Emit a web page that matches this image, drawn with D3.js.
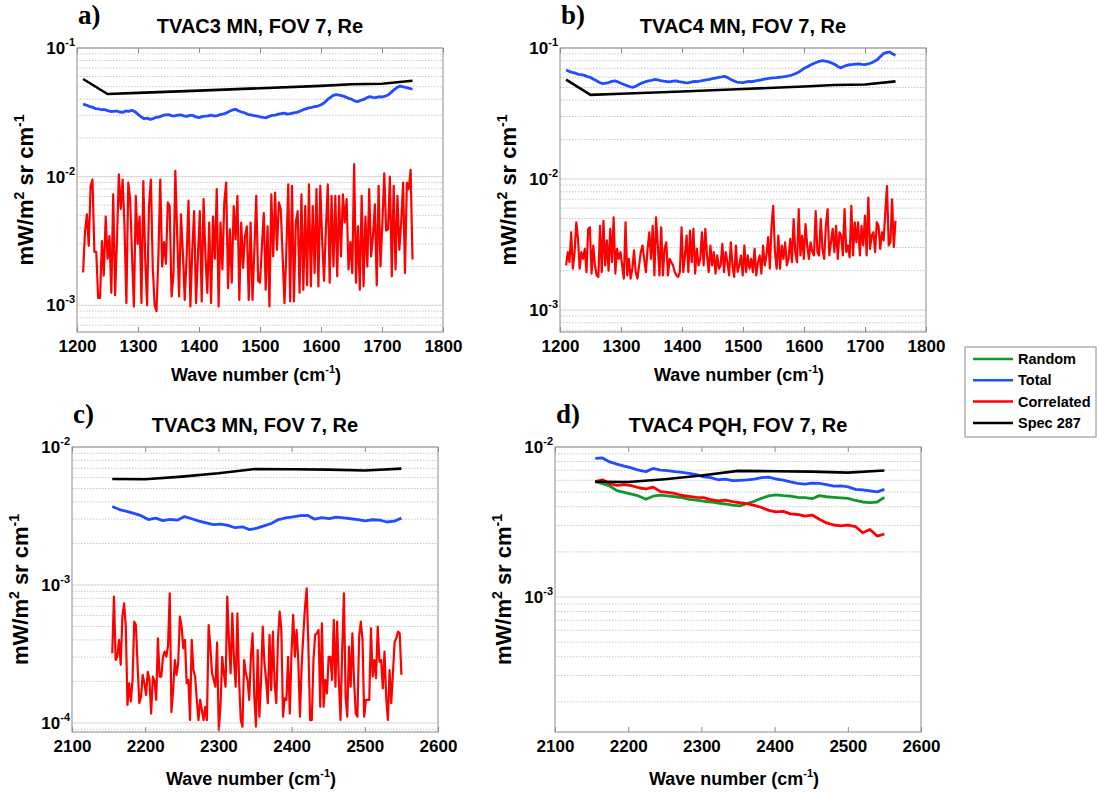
<!DOCTYPE html>
<html lang="en">
<head>
<meta charset="UTF-8">
<title>TVAC noise, FOV 7</title>
<script src="https://cdn.jsdelivr.net/npm/d3@7"></script>
<style>
  body { margin: 0; background: #fff; }
  text { font-family: "Liberation Sans", Arial, sans-serif; font-weight: bold; fill: #000; }
  text.tag { font-family: "Liberation Serif", "Times New Roman", serif; }
</style>
</head>
<body>
<svg width="1097" height="793"></svg>
<script>
// band limits (cm-1), the spectra are on an even grid inside them
var mwRange = [1210, 1750];
var swRange = [2155, 2550];

// Spec 287 (black)
var specMwX = [1210, 1250, 1300, 1400, 1500, 1600, 1650, 1700, 1750];
var specMw  = [0.0574, 0.0439, 0.0448, 0.0466, 0.0487, 0.0508, 0.0522, 0.0527, 0.0556];
var specSwX = [2155, 2200, 2250, 2300, 2350, 2400, 2450, 2500, 2550];
var specSw  = [5.86e-3, 5.84e-3, 6.1e-3, 6.45e-3, 6.93e-3, 6.9e-3, 6.85e-3, 6.75e-3, 6.97e-3];

// a) total (blue)
var totalA = [0.0366, 0.0360, 0.0352, 0.0347, 0.0338, 0.0336, 0.0331, 0.0333, 0.0326, 0.0321,
  0.0322, 0.0324, 0.0318, 0.0316, 0.0324, 0.0322, 0.0328, 0.0320, 0.0305, 0.0292,
  0.0282, 0.0285, 0.0279, 0.0283, 0.0289, 0.0291, 0.0298, 0.0302, 0.0303, 0.0298,
  0.0296, 0.0301, 0.0302, 0.0297, 0.0294, 0.0299, 0.0299, 0.0291, 0.0288, 0.0293,
  0.0295, 0.0297, 0.0301, 0.0296, 0.0298, 0.0304, 0.0307, 0.0313, 0.0322, 0.0330,
  0.0334, 0.0324, 0.0318, 0.0313, 0.0305, 0.0302, 0.0298, 0.0296, 0.0292, 0.0289,
  0.0287, 0.0294, 0.0299, 0.0301, 0.0306, 0.0309, 0.0312, 0.0306, 0.0309, 0.0313,
  0.0316, 0.0322, 0.0330, 0.0336, 0.0342, 0.0346, 0.0351, 0.0354, 0.0362, 0.0374,
  0.0395, 0.0412, 0.0428, 0.0434, 0.0431, 0.0425, 0.0417, 0.0406, 0.0400, 0.0388,
  0.0382, 0.0392, 0.0398, 0.0410, 0.0419, 0.0414, 0.0412, 0.0418, 0.0416, 0.0422,
  0.0431, 0.0452, 0.0475, 0.0494, 0.0506, 0.0498, 0.0492, 0.0485, 0.0478];
// a) correlated (red), x1e-3
var corrA = [1.8, 3.7, 5.1, 2.9, 8.5, 9.5, 2.6, 2.6, 1.14, 1.14,
  3.15, 1.7, 4.9, 2.3, 3.45, 1.25, 7.3, 1.2, 3.25, 10.4,
  5.6, 9.5, 4.1, 1.04, 9.0, 6.7, 2.4, 0.98, 7.1, 3.0,
  4.9, 1.04, 9.25, 2.3, 1.0, 5.9, 9.5, 2.0, 1.0, 0.9,
  2.4, 9.5, 2.0, 3.1, 2.1, 6.3, 5.9, 1.17, 1.73, 11.1,
  3.45, 1.17, 5.1, 2.56, 1.1, 2.4, 6.5, 0.98, 2.7, 5.4,
  1.04, 2.4, 5.4, 1.07, 6.7, 2.4, 1.25, 4.4, 1.04, 4.9,
  2.3, 8.0, 0.98, 4.4, 1.9, 6.3, 9.0, 1.36, 3.9, 1.5,
  5.9, 3.25, 7.1, 1.1, 4.4, 1.95, 3.45, 4.1, 1.1,
  4.4, 1.1, 2.7, 7.1, 1.55, 1.5, 2.9, 5.2, 1.32, 4.1,
  0.98, 7.3, 2.4, 7.5, 2.7, 6.3, 5.6, 2.4, 1.04, 2.7,
  8.7, 1.07, 8.5, 1.07, 4.4, 5.4, 1.25, 7.3, 1.32, 5.9,
  1.43, 8.7, 1.4, 5.9, 1.78, 8.0, 1.4, 8.5, 3.25, 1.55,
  3.9, 8.7, 1.5, 7.1, 2.0, 7.1, 1.68, 7.1, 2.4, 7.3,
  4.4, 6.7, 1.9, 3.1, 1.78, 12.5, 1.5, 4.1, 1.32, 7.1,
  1.4, 4.9, 2.0, 8.0, 2.4, 3.45, 6.1, 1.43, 8.5, 2.0,
  4.4, 10.6, 3.8, 3.9, 10.0, 1.68, 8.5, 1.9, 7.1, 2.7,
  4.4, 9.0, 1.78, 9.0, 8.0, 11.3, 2.27];

// b) total (blue)
var totalB = [0.0679, 0.0664, 0.0652, 0.0643, 0.0630, 0.0626, 0.0618, 0.0605, 0.0596, 0.0578,
  0.0562, 0.0545, 0.0534, 0.0539, 0.0545, 0.0556, 0.0562, 0.0551, 0.0538, 0.0527,
  0.0515, 0.0506, 0.0501, 0.0513, 0.0528, 0.0542, 0.0553, 0.0561, 0.0566, 0.0575,
  0.0571, 0.0564, 0.0559, 0.0555, 0.0552, 0.0558, 0.0561, 0.0553, 0.0549, 0.0544,
  0.0542, 0.0550, 0.0556, 0.0553, 0.0560, 0.0567, 0.0572, 0.0576, 0.0583, 0.0590,
  0.0596, 0.0601, 0.0607, 0.0594, 0.0575, 0.0561, 0.0550, 0.0546, 0.0545, 0.0552,
  0.0556, 0.0554, 0.0560, 0.0566, 0.0571, 0.0579, 0.0584, 0.0588, 0.0592, 0.0594,
  0.0598, 0.0602, 0.0607, 0.0614, 0.0622, 0.0634, 0.0650, 0.0672, 0.0700, 0.0716,
  0.0738, 0.0758, 0.0775, 0.0792, 0.0802, 0.0794, 0.0783, 0.0770, 0.0752, 0.0726,
  0.0705, 0.0722, 0.0738, 0.0745, 0.0749, 0.0754, 0.0756, 0.0751, 0.0748, 0.0755,
  0.0768, 0.0789, 0.0812, 0.0858, 0.0905, 0.0921, 0.0932, 0.0905, 0.0878];
// b) correlated (red), x1e-3
var corrB = [2.19, 2.77, 2.32, 3.92, 2.07, 2.77, 4.67, 3.49, 2.07, 2.77,
  2.46, 2.93, 1.95, 4.16, 4.28, 1.9, 3.11, 2.19, 1.84, 1.79,
  4.4, 1.95, 4.8, 2.19, 3.4, 2.0, 4.16, 2.32, 5.1, 1.9,
  2.93, 2.46, 2.77, 2.19, 1.74, 4.67, 1.84, 2.46, 1.74, 2.07,
  2.85, 1.95, 1.74, 2.19, 2.77, 3.11, 2.46, 1.95, 2.93, 3.92,
  2.46, 4.4, 1.84, 5.1, 3.11, 1.84, 4.28, 1.84, 2.93, 3.29,
  1.84, 2.46, 2.32, 2.19, 1.95, 1.84, 1.79, 1.95, 4.28, 1.95,
  2.61, 3.7, 1.95, 4.04, 2.32, 4.16, 1.9, 2.93, 2.19, 2.46,
  3.92, 2.19, 4.16, 2.61, 1.95, 3.11, 2.19, 2.77, 1.9, 2.61,
  2.07, 2.19, 3.2, 1.95, 2.77, 2.32, 1.84, 3.29, 2.19, 1.79,
  3.11, 1.95, 2.19, 2.61, 1.84, 3.11, 1.95, 2.61, 2.07, 2.46,
  1.95, 2.93, 1.84, 2.32, 2.61, 1.9, 3.11, 2.19, 2.61, 3.6,
  2.07, 4.4, 6.24, 2.77, 2.07, 3.7, 2.07, 3.11, 2.46, 3.29,
  2.19, 2.46, 3.49, 2.32, 4.95, 2.77, 2.32, 5.89, 2.61, 3.7,
  2.46, 4.53, 3.11, 2.46, 3.29, 2.77, 2.61, 5.7, 2.77, 2.61,
  4.95, 2.93, 2.46, 4.4, 5.89, 2.61, 3.29, 4.16, 2.77, 4.4,
  2.46, 3.92, 3.7, 2.61, 5.89, 2.77, 3.11, 2.53, 6.24, 2.61,
  4.67, 3.29, 4.67, 2.61, 4.4, 3.11, 5.25, 2.61, 7.22, 2.93,
  3.7, 3.92, 2.77, 4.67, 4.4, 2.93, 3.92, 3.4, 5.56, 8.85,
  3.11, 3.29, 7.0, 3.02, 4.8];

// c) total (blue), x1e-3
var totalC = [3.70, 3.52, 3.41, 3.30, 3.18, 2.98, 3.05, 2.93, 2.99, 2.95,
  3.13, 3.02, 2.90, 2.82, 2.74, 2.76, 2.70, 2.60, 2.64, 2.52,
  2.58, 2.68, 2.79, 2.98, 3.06, 3.12, 3.18, 3.20, 3.00, 3.08,
  3.03, 3.10, 3.06, 3.02, 2.98, 2.92, 2.97, 2.95, 2.86, 2.90, 3.05];
// c) correlated (red), x1e-4
var corrC = [3.2, 8.23, 2.86, 3.02, 4.0, 2.64, 5.9, 7.36, 4.99, 1.35,
  1.94, 1.43, 2.05, 5.42, 5.13, 2.56, 1.39, 1.55, 2.23, 1.94,
  1.6, 2.35, 2.05, 1.17, 2.17, 2.0, 1.47, 4.11, 2.17, 2.17,
  3.02, 3.29, 3.02, 3.67, 8.7, 1.2, 1.73, 2.86, 2.23, 2.71,
  5.9, 4.99, 3.47, 4.0, 1.94, 2.05, 1.05, 4.0, 2.42, 2.17,
  1.47, 1.05, 1.47, 1.24, 1.05, 1.31, 1.05, 5.13, 3.57, 2.29,
  2.05, 1.83, 3.83, 0.89, 1.31, 3.02, 2.29, 1.83, 8.23, 4.0,
  2.29, 6.24, 2.86, 1.83, 6.24, 2.05, 1.05, 0.94, 2.86, 2.29,
  2.05, 1.47, 3.02, 4.47, 1.55, 0.94, 3.38, 1.11, 2.05, 4.99,
  2.71, 2.05, 1.39, 4.35, 1.73, 4.59, 1.94, 1.39, 4.0, 6.41,
  4.72, 1.11, 1.51, 1.47, 3.02, 1.17, 3.2, 6.07, 3.02, 4.72,
  2.86, 1.11, 2.56, 4.35, 6.95, 9.46, 3.57, 1.05, 1.05, 2.86,
  4.35, 4.47, 4.72, 1.31, 5.27, 1.31, 2.05, 1.64, 3.02, 3.02,
  2.05, 5.58, 1.83, 5.42, 2.05, 1.05, 3.38, 8.7, 1.55, 1.11,
  3.57, 1.83, 4.47, 2.05, 1.17, 1.11, 4.22, 5.42, 4.0, 1.11,
  1.47, 1.47, 1.47, 4.85, 2.17, 2.86, 2.11, 4.99, 2.78, 2.86,
  1.78, 3.29, 1.55, 1.05, 2.42, 1.39, 2.29, 3.88, 4.11, 4.59,
  4.47, 2.23];

// d) x1e-3
var randomD = [5.87, 5.70, 5.50, 5.12, 4.98, 4.85, 4.72, 4.48, 4.70, 4.78,
  4.72, 4.66, 4.60, 4.48, 4.42, 4.35, 4.30, 4.22, 4.17, 4.10,
  4.05, 4.20, 4.35, 4.55, 4.72, 4.80, 4.74, 4.70, 4.62, 4.60,
  4.52, 4.74, 4.66, 4.62, 4.58, 4.55, 4.40, 4.30, 4.26, 4.30, 4.62];
var totalD = [8.40, 8.45, 7.95, 7.70, 7.45, 7.25, 7.00, 6.85, 7.20, 7.02,
  6.95, 6.85, 6.78, 6.67, 6.55, 6.32, 6.25, 6.05, 6.10, 5.96,
  6.00, 6.03, 6.10, 6.25, 6.30, 6.12, 6.02, 5.85, 5.72, 5.66,
  5.75, 5.72, 5.62, 5.48, 5.50, 5.42, 5.22, 5.18, 5.10, 5.02, 5.22];
var corrD = [5.87, 6.05, 5.70, 5.55, 5.62, 5.52, 5.35, 5.25, 5.40, 5.05,
  4.98, 4.90, 4.75, 4.68, 4.62, 4.60, 4.45, 4.38, 4.42, 4.32,
  4.25, 4.20, 4.08, 3.95, 3.78, 3.70, 3.72, 3.58, 3.55, 3.46,
  3.52, 3.30, 3.12, 3.02, 2.98, 3.02, 2.95, 2.68, 2.82, 2.55, 2.63];

var mwTicks = [1200, 1300, 1400, 1500, 1600, 1700, 1800];
var swTicks = [2100, 2200, 2300, 2400, 2500, 2600];
var legendNames = ["Random", "Total", "Correlated", "Spec 287"];

var colors = { Random: "#12982a", Total: "#1f4dff", Correlated: "#ff0000", "Spec 287": "#000000" };

function grid(range, n) {
    var s = d3.scaleLinear().domain([0, n - 1]).range(range);
    return d3.range(n).map(s);
}
function pts(xs, ys, k) {
    return ys.map(function (v, i) { return [xs[i], v * (k || 1)]; });
}

var panels = [
  { tag: "a)", title: "TVAC3 MN, FOV 7, Re", box: [77, 48, 443, 332], xDom: [1200, 1800], ticks: mwTicks,
    yDom: [6.2e-4, 0.1], labelY: 381,
    series: [
      { n: "Spec 287", d: pts(specMwX, specMw), w: 2.6 },
      { n: "Total", d: pts(grid(mwRange, totalA.length), totalA), w: 2.8 },
      { n: "Correlated", d: pts(grid(mwRange, corrA.length), corrA, 1e-3), w: 2.2 }
    ] },
  { tag: "b)", title: "TVAC4 MN, FOV 7, Re", box: [560, 48, 926, 332], xDom: [1200, 1800], ticks: mwTicks,
    yDom: [6.8e-4, 0.1], labelY: 381,
    series: [
      { n: "Spec 287", d: pts(specMwX, specMw), w: 2.6 },
      { n: "Total", d: pts(grid(mwRange, totalB.length), totalB), w: 2.8 },
      { n: "Correlated", d: pts(grid(mwRange, corrB.length), corrB, 1e-3), w: 2.2 }
    ] },
  { tag: "c)", title: "TVAC3 MN, FOV 7, Re", box: [72, 447, 438, 732], xDom: [2100, 2600], ticks: swTicks,
    yDom: [8.6e-5, 0.01], labelY: 785,
    series: [
      { n: "Spec 287", d: pts(specSwX, specSw), w: 2.6 },
      { n: "Total", d: pts(grid(swRange, totalC.length), totalC, 1e-3), w: 2.8 },
      { n: "Correlated", d: pts(grid(swRange, corrC.length), corrC, 1e-4), w: 2.2 }
    ] },
  { tag: "d)", title: "TVAC4 PQH, FOV 7, Re", box: [555, 447, 921, 732], xDom: [2100, 2600], ticks: swTicks,
    yDom: [1.26e-4, 0.01], labelY: 785,
    series: [
      { n: "Random", d: pts(grid(swRange, randomD.length), randomD, 1e-3), w: 2.8 },
      { n: "Total", d: pts(grid(swRange, totalD.length), totalD, 1e-3), w: 2.8 },
      { n: "Correlated", d: pts(grid(swRange, corrD.length), corrD, 1e-3), w: 2.8 },
      { n: "Spec 287", d: pts(specSwX, specSw), w: 2.6 }
    ] }
];

var svg = d3.select("svg");
svg.append("rect").attr("width", 1097).attr("height", 793).attr("fill", "#fff");

panels.forEach(function (p, pi) {
    var L = p.box[0], T = p.box[1], R = p.box[2], B = p.box[3];
    var x = d3.scaleLinear().domain(p.xDom).range([L, R]);
    var y = d3.scaleLog().domain(p.yDom).range([B, T]);
    var g = svg.append("g");

    // grid lines: decades solid, the rest dotted
    var lo = Math.floor(Math.log10(p.yDom[0])), hi = Math.ceil(Math.log10(p.yDom[1]));
    var minors = [], majors = [];
    for (var e = lo; e <= hi; e++) {
        for (var m = 1; m < 10; m++) {
            var v = m * Math.pow(10, e);
            if (v < p.yDom[0] * 0.999 || v > p.yDom[1] * 1.001) continue;
            (m === 1 ? majors : minors).push(v);
        }
    }
    g.selectAll(".minor").data(minors).enter().append("line")
        .attr("x1", L).attr("x2", R)
        .attr("y1", function (d) { return y(d); }).attr("y2", function (d) { return y(d); })
        .attr("stroke", "#c8c8c8").attr("stroke-dasharray", "1.5,1.5");
    g.selectAll(".major").data(majors).enter().append("line")
        .attr("x1", L).attr("x2", R)
        .attr("y1", function (d) { return y(d); }).attr("y2", function (d) { return y(d); })
        .attr("stroke", "#d6d6d6");

    // series
    var cid = "clip" + pi;
    svg.append("clipPath").attr("id", cid).append("rect")
        .attr("x", L).attr("y", T).attr("width", R - L).attr("height", B - T);
    var line = d3.line().x(function (d) { return x(d[0]); }).y(function (d) { return y(d[1]); });
    var lg = g.append("g").attr("clip-path", "url(#" + cid + ")");
    p.series.forEach(function (s) {
        lg.append("path").attr("d", line(s.d))
            .attr("fill", "none").attr("stroke", colors[s.n])
            .attr("stroke-width", s.w).attr("stroke-linejoin", "round");
    });

    // frame
    g.append("rect").attr("x", L).attr("y", T).attr("width", R - L).attr("height", B - T)
        .attr("fill", "none").attr("stroke", "#8a8a8a");

    // x axis: inner ticks bottom and top
    g.append("g").attr("transform", "translate(0," + B + ")")
        .call(d3.axisBottom(x).tickValues(p.ticks).tickSize(-5).tickPadding(8).tickFormat(d3.format("d")))
        .call(function (a) {
            a.select(".domain").remove();
            a.selectAll("line").attr("stroke", "#8a8a8a");
            a.selectAll("text").attr("font-size", 17).attr("font-family", null).attr("fill", "#000");
        });
    g.append("g").attr("transform", "translate(0," + T + ")")
        .call(d3.axisTop(x).tickValues(p.ticks).tickSize(-5).tickFormat(""))
        .call(function (a) {
            a.select(".domain").remove();
            a.selectAll("line").attr("stroke", "#8a8a8a");
        });

    // y tick labels 10^n
    majors.forEach(function (v) {
        var t = g.append("text").attr("x", L - 2).attr("y", y(v) + 6)
            .attr("text-anchor", "end").attr("font-size", 17);
        t.append("tspan").text("10");
        t.append("tspan").attr("font-size", 11).attr("dy", -8).text(Math.round(Math.log10(v)));
    });

    // titles and labels
    g.append("text").attr("class", "tag").attr("x", L + 1).attr("y", T - 24)
        .attr("font-size", 27).text(p.tag);
    g.append("text").attr("x", (L + R) / 2).attr("y", T - 15)
        .attr("text-anchor", "middle").attr("font-size", 20).text(p.title);

    var xl = g.append("text").attr("x", (L + R) / 2 - 4).attr("y", p.labelY)
        .attr("text-anchor", "middle").attr("font-size", 18);
    xl.append("tspan").text("Wave number (cm");
    xl.append("tspan").attr("font-size", 11).attr("dy", -8).text("-1");
    xl.append("tspan").attr("dy", 8).text(")");

    var yl = g.append("text")
        .attr("transform", "translate(" + (L - 44) + "," + ((T + B) / 2) + ") rotate(-90)")
        .attr("text-anchor", "middle").attr("font-size", 22);
    yl.append("tspan").text("mW/m");
    yl.append("tspan").attr("font-size", 14).attr("dy", -9).text("2");
    yl.append("tspan").attr("dy", 9).text(" sr cm");
    yl.append("tspan").attr("font-size", 14).attr("dy", -9).text("-1");
});

// legend
var leg = svg.append("g").attr("transform", "translate(965,347)");
leg.append("rect").attr("width", 131).attr("height", 90)
    .attr("fill", "#fff").attr("stroke", "#8a8a8a");
legendNames.forEach(function (n, i) {
    var yy = 12 + i * 21.3;
    leg.append("line").attr("x1", 8).attr("x2", 48).attr("y1", yy).attr("y2", yy)
        .attr("stroke", colors[n]).attr("stroke-width", 2.5);
    leg.append("text").attr("x", 53).attr("y", yy + 5).attr("font-size", 14.5).text(n);
});
</script>
</body>
</html>
